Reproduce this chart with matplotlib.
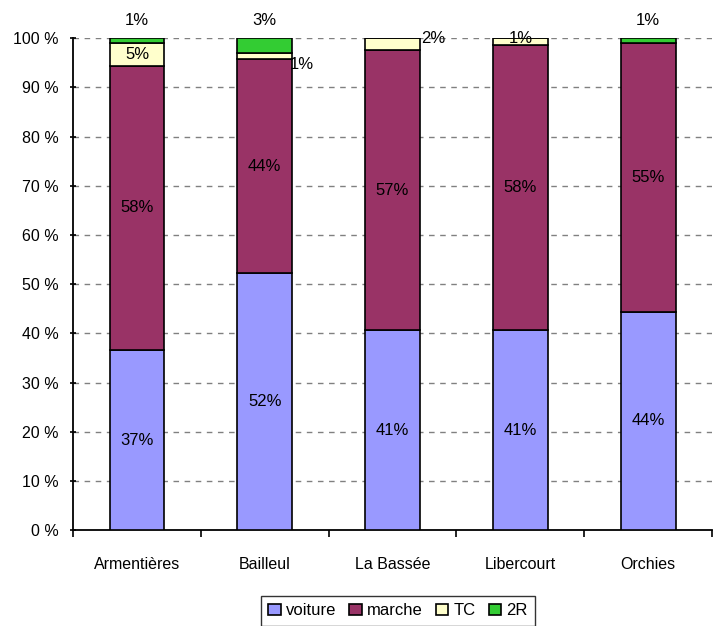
import numpy as np
import matplotlib
matplotlib.use("Agg")
import matplotlib.pyplot as plt
from matplotlib.ticker import FixedLocator

plt.rcParams['font.family'] = ['Liberation Sans', 'DejaVu Sans']

communes = ["Armentières", "Bailleul", "La Bassée", "Libercourt", "Orchies"]
voiture = [36.6, 52.2, 40.6, 40.7, 44.4]
marche = [57.8, 43.6, 57.0, 58.0, 54.6]
tc = [4.7, 1.2, 2.4, 1.3, 0.0]
deux_r = [0.9, 3.0, 0.0, 0.0, 1.0]
labels_tc = ["5%", "1%", "2%", "1%", ""]
labels_2r = ["1%", "3%", "", "", "1%"]

series = [("voiture", voiture, "#9999FF"),
          ("marche", marche, "#993366"),
          ("TC", tc, "#FFFFCC"),
          ("2R", deux_r, "#33CC33")]

fig = plt.figure(figsize=(7.17, 6.26), dpi=100)
ax = fig.add_axes([0.102, 0.153, 0.891, 0.786])

x = np.arange(len(communes))
width = 0.43
bottom = np.zeros(len(communes))
handles = []
for name, vals, color in series:
    h = ax.bar(x, vals, width, bottom=bottom, color=color, edgecolor="black",
               linewidth=1.2, label=name, zorder=3)
    handles.append(h)
    bottom += np.array(vals)

fs = 12
# voiture and marche labels, centred in their segment
for i in range(len(communes)):
    ax.text(x[i], voiture[i] / 2, f"{voiture[i]:.0f}%", ha="center", va="center",
            fontsize=fs, zorder=4)
    ax.text(x[i], voiture[i] + marche[i] / 2, f"{marche[i]:.0f}%", ha="center",
            va="center", fontsize=fs, zorder=4)

# TC labels (small segments pushed aside like Excel does)
tc_dx = [0.0, 0.29, 0.32, 0.0, 0.0]
tc_dy = [0.0, -1.8, 1.2, 0.6, 0.0]
for i, lab in enumerate(labels_tc):
    if not lab:
        continue
    y = voiture[i] + marche[i] + tc[i] / 2 + tc_dy[i]
    ax.text(x[i] + tc_dx[i], y, lab, ha="center", va="center", fontsize=fs,
            zorder=4, clip_on=False)

for i, lab in enumerate(labels_2r):
    if lab:
        ax.text(x[i], 103.6, lab, ha="center", va="center", fontsize=fs,
                clip_on=False)

ax.set_xlim(-0.5, len(communes) - 0.5)
ax.set_ylim(0, 100)
ax.set_yticks(np.arange(0, 101, 10))
ax.set_yticklabels([f"{v} %" for v in range(0, 101, 10)], fontsize=11.5)
ax.set_xticks(x)
ax.set_xticklabels(communes, fontsize=11.5)
ax.xaxis.set_minor_locator(FixedLocator(np.arange(-0.5, len(communes), 1.0)))
ax.tick_params(axis="x", which="major", length=0, pad=19)
ax.tick_params(axis="x", which="minor", length=5, width=1.2, direction="out")
ax.tick_params(axis="y", length=5, width=1.2, direction="inout", pad=8)
for yv in range(10, 101, 10):
    ax.axhline(yv, color="#808080", linestyle=(0, (4, 4)), linewidth=1.0, zorder=1)
for s in ["top", "right"]:
    ax.spines[s].set_visible(False)
for s in ["left", "bottom"]:
    ax.spines[s].set_linewidth(1.3)

leg = fig.legend(handles=handles, loc="upper center", bbox_to_anchor=(0.555, 0.048),
                 ncol=4, frameon=True, fancybox=False, edgecolor="black",
                 fontsize=12, handlelength=0.75, handleheight=0.6,
                 handletextpad=0.3, columnspacing=0.8, borderpad=0.45,
                 borderaxespad=0.0)
leg.get_frame().set_linewidth(1.0)

fig.savefig("out.png", dpi=100)
